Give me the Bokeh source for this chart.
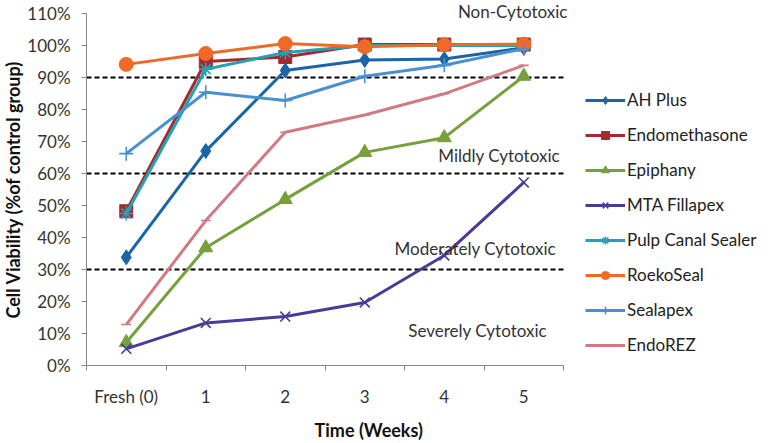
from bokeh.plotting import figure
from bokeh.models import FixedTicker, Label, Legend, LegendItem, Range1d
from bokeh.embed import file_html
from bokeh.resources import INLINE

# ---- data ----
categories = ["Fresh (0)", "1", "2", "3", "4", "5"]
ah_plus = [33.8, 67.0, 92.2, 95.5, 95.8, 99.3]
endomethasone = [48.2, 95.0, 96.4, 100.3, 100.3, 100.3]
epiphany = [7.2, 36.8, 51.9, 66.6, 71.2, 90.4]
mta_fillapex = [5.2, 13.3, 15.3, 19.7, 34.4, 57.2]
pulp_canal_sealer = [47.5, 92.6, 97.8, 100.0, 100.0, 100.0]
roekoseal = [94.1, 97.5, 100.6, 99.6, 100.2, 100.4]
sealapex = [66.2, 85.4, 82.8, 90.4, 93.8, 99.0]
endorez = [12.8, 45.3, 72.9, 78.3, 84.9, 93.8]
y_ticks = [0, 10, 20, 30, 40, 50, 60, 70, 80, 90, 100, 110]
thresholds = [90, 60, 30]
zone_labels = ["Non-Cytotoxic", "Mildly Cytotoxic", "Moderately Cytotoxic", "Severely Cytotoxic"]

series = [
    ("AH Plus", ah_plus, "#1A65A8", "diamond", 15),
    ("Endomethasone", endomethasone, "#A8282E", "square", 13),
    ("Epiphany", epiphany, "#76A03A", "triangle", 14),
    ("MTA Fillapex", mta_fillapex, "#4A3C96", "x", 14),
    ("Pulp Canal Sealer", pulp_canal_sealer, "#20A4B4", "asterisk", 14),
    ("RoekoSeal", roekoseal, "#EE6A26", "circle", 14),
    ("Sealapex", sealapex, "#4A90D0", "cross", 14),
    ("EndoREZ", endorez, "#D27A84", "dash", 10),
]

FONT = "Lato"
n = len(categories)
xs = [i + 0.5 for i in range(n)]
y_max = y_ticks[-1]

# the frame fills the whole canvas; axes are pinned at x=0 / y=0
p = figure(width=771, height=443, output_backend="svg", toolbar_location=None,
           x_range=Range1d(-1.0818, 8.616), y_range=Range1d(-24.375, 114.06),
           min_border=0)
p.outline_line_color = None
p.xgrid.visible = False
p.ygrid.visible = False

# x axis
xa = p.xaxis[0]
xa.fixed_location = 0
xa.bounds = (0, n)
xa.ticker = FixedTicker(ticks=xs, minor_ticks=list(range(n + 1)))
xa.major_label_overrides = {x: c for x, c in zip(xs, categories)}
xa.major_tick_out = 0
xa.major_tick_in = 0
xa.minor_tick_out = 5
xa.minor_tick_in = 0
xa.minor_tick_line_color = "#868686"
xa.axis_line_color = "#868686"
xa.major_label_standoff = 16
xa.major_label_text_font = FONT
xa.major_label_text_font_size = "17px"
xa.major_label_text_color = "#333333"

# y axis
ya = p.yaxis[0]
ya.fixed_location = 0
ya.bounds = (0, y_max)
ya.ticker = FixedTicker(ticks=y_ticks, minor_ticks=[])
ya.major_label_overrides = {v: f"{v}%" for v in y_ticks}
ya.major_tick_out = 5
ya.major_tick_in = 0
ya.major_tick_line_color = "#868686"
ya.axis_line_color = "#868686"
ya.major_label_standoff = 11
ya.major_label_text_font = FONT
ya.major_label_text_font_size = "17px"
ya.major_label_text_color = "#333333"
ya.axis_label = "Cell Viability (%of control group)"
ya.axis_label_text_font = FONT
ya.axis_label_text_font_size = "18px"
ya.axis_label_text_font_style = "bold"
ya.axis_label_text_color = "#111111"
ya.axis_label_standoff = 0

# x axis title (sits right of centre, as in the reference)
p.add_layout(Label(x=3.55, y=-20.3, text="Time (Weeks)", text_align="center",
                   text_baseline="middle", text_font=FONT, text_font_size="18px",
                   text_font_style="bold", text_color="#111111"))

# threshold lines (dashed, spanning the category axis)
p.segment(x0=[0] * len(thresholds), x1=[n + 0.03] * len(thresholds),
          y0=thresholds, y1=thresholds, line_color="black", line_width=2,
          line_dash="5 3")

# series
items = []
for name, vals, color, marker, size in series:
    r1 = p.line(xs, vals, line_color=color, line_width=3)
    lw = 1.6 if marker in ("x", "asterisk", "cross", "dash") else 1
    r2 = p.scatter(xs, vals, marker=marker, size=size, fill_color=color,
                   line_color=color, line_width=lw)
    items.append(LegendItem(label=name, renderers=[r1, r2]))

legend = Legend(items=items, location=(585, 88), glyph_width=40, glyph_height=20,
                label_height=20, spacing=14, padding=5, margin=0, label_standoff=2,
                border_line_color=None, background_fill_alpha=0,
                label_text_font=FONT, label_text_font_size="17px",
                label_text_color="#222222")
p.add_layout(legend, "center")

# zone labels
zone_x = [5.36, 5.19, 4.89, 4.92]
zone_y = [110.6, 65.6, 36.6, 10.9]
for txt, zx, zy in zip(zone_labels, zone_x, zone_y):
    p.add_layout(Label(x=zx, y=zy, text=txt, text_align="center",
                       text_baseline="middle", text_font=FONT,
                       text_font_size="17px", text_color="#333333"))

open("out.html", "w").write(file_html(p, INLINE))
